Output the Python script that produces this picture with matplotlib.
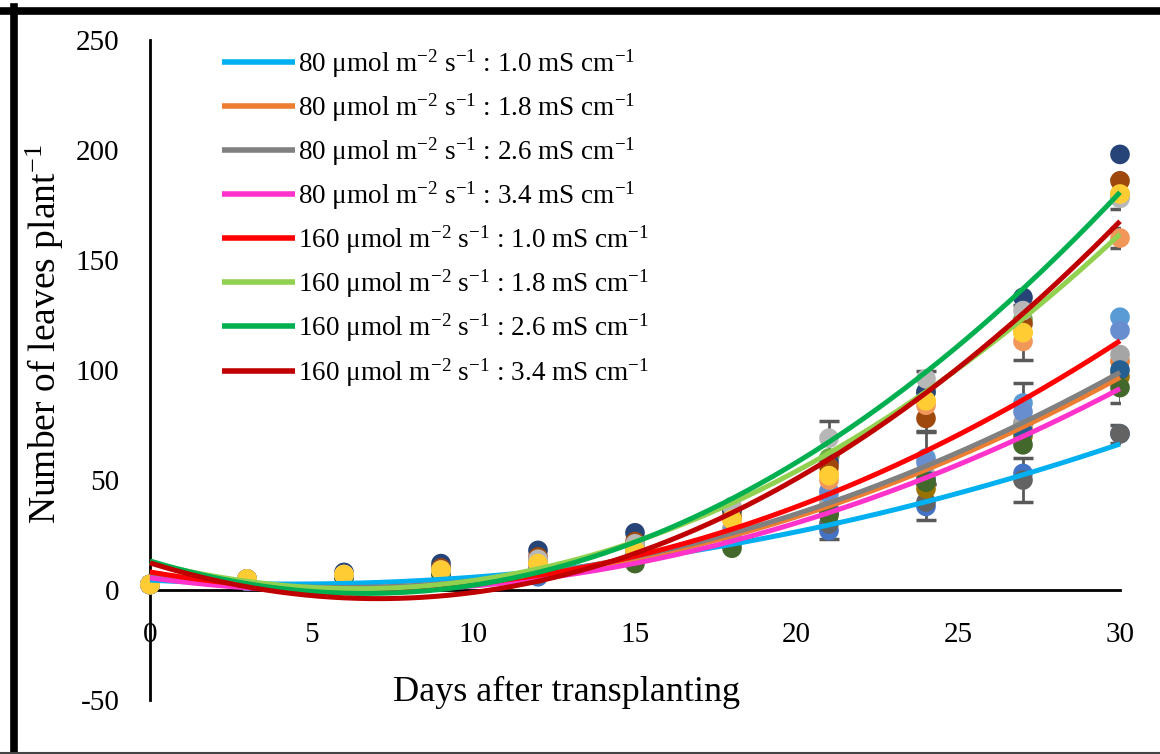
import numpy as np
import matplotlib
matplotlib.use("Agg")
import matplotlib.pyplot as plt
from matplotlib.lines import Line2D

plt.rcParams['font.family'] = ['Liberation Serif', 'DejaVu Serif']
plt.rcParams['mathtext.fontset'] = 'custom'
plt.rcParams['mathtext.rm'] = 'Liberation Serif'
plt.rcParams['mathtext.it'] = 'Liberation Serif:italic'
plt.rcParams['axes.unicode_minus'] = False

# sampling days of the measured points
days = [0, 3, 6, 9, 12, 15, 18, 21, 24, 27, 30]

pts_s1 = [2.5, 4, 6, 8, 6, 14, 21, 27, 38, 53, 71]
pts_s2 = [2.5, 5, 7, 9, 11, 17, 26, 38, 50, 74, 104]
pts_s3 = [2.5, 5, 7, 9, 11, 19, 28, 40, 52, 76, 107]
pts_s4 = [2.5, 5, 7, 9, 13, 19, 33, 53, 86, 117, 180]
pts_s5 = [2.5, 4, 7, 9, 10, 16, 26, 44, 60, 85, 124]
pts_s6 = [2.5, 5, 7, 9, 13, 20, 36, 60, 90, 123, 179]
pts_s7 = [2.5, 5, 8, 12, 18, 26, 36, 58, 90, 133, 198]
pts_s8 = [2.5, 5, 7, 10, 15, 22, 33, 56, 78, 121, 186]
pts_s9 = [2.5, 4, 6, 8, 7, 15, 22, 30, 40, 50, 71]
pts_s10 = [2.5, 4, 6, 8, 9, 15, 24, 35, 46, 70, 97]
pts_s11 = [2.5, 4, 6, 8, 9, 15, 24, 36, 50, 72, 100]
pts_s12 = [2.5, 4, 6, 7, 8, 12, 19, 34, 49, 66, 92]
pts_s13 = [2.5, 4, 7, 9, 10, 16, 25, 45, 58, 81, 118]
pts_s14 = [2.5, 5, 7, 9, 12, 18, 32, 50, 84, 113, 160]
pts_s15 = [2.5, 5, 7, 9, 14, 21, 38, 69, 96, 127, 178]
pts_s16 = [2.5, 5, 7, 9, 12, 18, 32, 52, 86, 117, 180]

# error bars that are visible in the figure (0 = not shown)
err_s1 = [0, 0, 0, 0, 0, 0, 0, 4, 0, 0, 0]
err_s4 = [0, 0, 0, 0, 0, 0, 0, 0, 13.5, 12.5, 7]
err_s5 = [0, 0, 0, 0, 0, 0, 0, 0, 12, 9, 0]
err_s9 = [0, 0, 0, 0, 0, 0, 0, 0, 8, 10, 4]
err_s12 = [0, 0, 0, 0, 0, 0, 0, 0, 0, 0, 7]
err_s14 = [0, 0, 0, 0, 0, 0, 0, 0, 0, 0, 4.5]
err_s15 = [0, 0, 0, 0, 0, 0, 0, 8, 0, 0, 0]

# trendline readings (days 0, 21, 27, 30) for each treatment
trend_days = [0, 21, 27, 30]
tr_80_10 = [4.5, 29.6, 52.3, 66.4]
tr_80_18 = [6.0, 38.2, 74.0, 96.7]
tr_80_26 = [7.0, 39.6, 76.0, 99.0]
tr_80_34 = [5.5, 35.5, 69.0, 92.0]
tr_160_10 = [8.2, 43.7, 86.2, 113.4]
tr_160_18 = [12.5, 62.4, 123.0, 162.0]
tr_160_26 = [13.2, 67.4, 136.7, 180.9]
tr_160_34 = [12.3, 59.7, 125.0, 168.0]

labels = [
    r"80 μmol m$^{-2}$ s$^{-1}$ : 1.0 mS cm$^{-1}$",
    r"80 μmol m$^{-2}$ s$^{-1}$ : 1.8 mS cm$^{-1}$",
    r"80 μmol m$^{-2}$ s$^{-1}$ : 2.6 mS cm$^{-1}$",
    r"80 μmol m$^{-2}$ s$^{-1}$ : 3.4 mS cm$^{-1}$",
    r"160 μmol m$^{-2}$ s$^{-1}$ : 1.0 mS cm$^{-1}$",
    r"160 μmol m$^{-2}$ s$^{-1}$ : 1.8 mS cm$^{-1}$",
    r"160 μmol m$^{-2}$ s$^{-1}$ : 2.6 mS cm$^{-1}$",
    r"160 μmol m$^{-2}$ s$^{-1}$ : 3.4 mS cm$^{-1}$",
]

point_series = [pts_s1, pts_s2, pts_s3, pts_s4, pts_s5, pts_s6, pts_s7, pts_s8,
                pts_s9, pts_s10, pts_s11, pts_s12, pts_s13, pts_s14, pts_s15, pts_s16]
point_colors = ['#4472C4', '#ED7D31', '#A5A5A5', '#FFC000', '#5B9BD5', '#70AD47',
                '#264478', '#9E480E', '#636363', '#997300', '#255E91', '#43682B',
                '#698ED0', '#F1975A', '#B7B7B7', '#FFCD33']
error_series = {0: err_s1, 3: err_s4, 4: err_s5, 8: err_s9, 11: err_s12,
                13: err_s14, 14: err_s15}

trend_series = [tr_80_10, tr_80_18, tr_80_26, tr_80_34,
                tr_160_10, tr_160_18, tr_160_26, tr_160_34]
trend_colors = ['#00B0F0', '#ED7D31', '#808080', '#FF33CC',
                '#FF0000', '#92D050', '#00B050', '#C00000']

fig = plt.figure(figsize=(11.6, 7.54), dpi=100)
ax = fig.add_axes([150 / 1160, 54 / 754, 970 / 1160, 660 / 754])

d = np.array(days)
for i, (vals, col) in enumerate(zip(point_series, point_colors)):
    v = np.array(vals)
    if i in error_series:
        e = np.array(error_series[i])
        m = e > 0
        ax.errorbar(d[m], v[m], yerr=e[m], fmt='none', ecolor='#595959',
                    elinewidth=2, capsize=7, capthick=2.5, zorder=2 + i * 0.01)
    ax.scatter(d, v, s=200, color=col, edgecolors='none', zorder=3 + i * 0.01,
               clip_on=False)

xs = np.linspace(0, 30, 300)
for vals, col, lab in zip(trend_series, trend_colors, labels):
    coef = np.polyfit(trend_days, vals, 2)
    ax.plot(xs, np.polyval(coef, xs), color=col, lw=3.6, label=lab,
            solid_capstyle='butt', zorder=4, clip_on=False)

ax.set_xlim(0, 30)
ax.set_ylim(-50, 250)
ax.set_xticks(range(0, 31, 5))
ax.set_yticks(range(-50, 251, 50))
ax.spines['top'].set_visible(False)
ax.spines['right'].set_visible(False)
ax.spines['bottom'].set_position(('data', 0))
ax.spines['left'].set_linewidth(2)
ax.spines['bottom'].set_linewidth(2)
ax.tick_params(axis='both', length=0, labelsize=21)
ax.tick_params(axis='x', pad=23)
ax.tick_params(axis='y', pad=22)

fig.text(567 / 1160, 1 - 692 / 754, "Days after transplanting", fontsize=26,
         ha='center', va='center')
fig.text(45 / 1160, 1 - 334 / 754, r"Number of leaves plant$^{-1}$", fontsize=27,
         ha='center', va='center', rotation=90)

leg = ax.legend(loc='upper left', bbox_to_anchor=(222 / 1160, 1 - 47 / 754),
                bbox_transform=fig.transFigure, frameon=False, fontsize=19.5,
                handlelength=2.7, handletextpad=0.12, labelspacing=0.43,
                borderaxespad=0, borderpad=0)
for h in leg.get_lines():
    h.set_linewidth(4)

# outer frame of the original picture
fig.add_artist(Line2D([0, 1], [1 - 10.5 / 754] * 2, transform=fig.transFigure,
                      color='black', lw=5.5))
fig.add_artist(Line2D([13.5 / 1160] * 2, [0, 1 - 7 / 754], transform=fig.transFigure,
                      color='black', lw=5.5))
fig.add_artist(Line2D([0, 1], [1.5 / 754] * 2, transform=fig.transFigure,
                      color='#444444', lw=1.5))

fig.savefig('out.png', dpi=100)
